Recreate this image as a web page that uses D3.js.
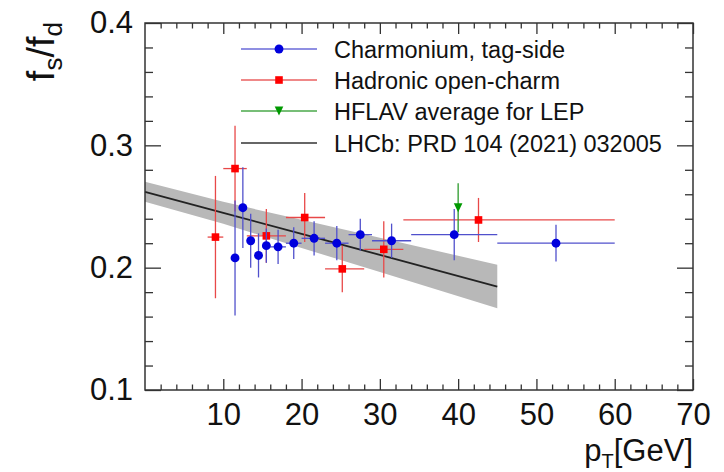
<!DOCTYPE html>
<html>
<head>
<meta charset="utf-8">
<script src="https://cdn.jsdelivr.net/npm/d3@7"></script>
<style>
  body { margin: 0; background: #fff; }
  svg text { font-family: "Liberation Sans", Arial, sans-serif; }
</style>
</head>
<body>
<div id="chart"></div>
<script>
// Charmonium, tag-side: pT, bin low, bin high, fs/fd, error
const charmX = [11.5, 12.5, 13.5, 14.5, 15.5, 17.0, 19.0, 21.6, 24.5, 27.5, 31.5, 39.5, 52.5];
const charmXlo = [11, 12, 13, 14, 15, 16, 18, 20, 23, 26, 29, 34, 45];
const charmXhi = [12, 13, 14, 15, 16, 18, 20, 23, 26, 29, 34, 45, 60];
const charmY = [0.208, 0.249, 0.222, 0.210, 0.218, 0.217, 0.220, 0.224, 0.220, 0.227, 0.222, 0.227, 0.220];
const charmErr = [0.047, 0.033, 0.022, 0.018, 0.014, 0.014, 0.013, 0.014, 0.014, 0.013, 0.014, 0.021, 0.015];

// Hadronic open-charm
const hadX = [9.0, 11.5, 15.5, 20.4, 25.2, 30.5, 42.6];
const hadXlo = [8, 10, 13, 18, 23, 28, 33];
const hadXhi = [10, 13, 18, 23, 28, 33, 60];
const hadY = [0.225, 0.281, 0.226, 0.241, 0.199, 0.215, 0.239];
const hadErr = [0.050, 0.035, 0.022, 0.020, 0.019, 0.023, 0.018];

// HFLAV average for LEP
const lepX = [40.0];
const lepY = [0.249];
const lepErr = [0.020];

// LHCb: PRD 104 (2021) 032005 band
const lhcbX = [0, 10, 20, 30, 45];
const lhcbY = [0.262, 0.2448, 0.2276, 0.2104, 0.1846];
const lhcbErr = [0.0082, 0.009, 0.0115, 0.014, 0.0178];

const legendLabels = ["Charmonium, tag-side", "Hadronic open-charm", "HFLAV average for LEP", "LHCb: PRD 104 (2021) 032005"];
const xTicks = [10, 20, 30, 40, 50, 60, 70];
const yTicks = [0.1, 0.2, 0.3, 0.4];

const svgWidth = 724, svgHeight = 472;
const margin = { top: 23, right: 31, bottom: 82, left: 145 },
  width = svgWidth - margin.left - margin.right,
  height = svgHeight - margin.top - margin.bottom;

const svg = d3.select("#chart").append("svg")
  .attr("width", svgWidth).attr("height", svgHeight);
const g = svg.append("g")
  .attr("transform", "translate(" + margin.left + "," + margin.top + ")");

const x = d3.scaleLinear().domain([0, 70]).range([0, width]);
const y = d3.scaleLinear().domain([0.1, 0.4]).range([height, 0]);

const minorX = d3.range(2, 70, 2).filter(d => d % 10 !== 0);
const minorY = d3.range(0.12, 0.4, 0.02).filter(d => Math.abs(Math.round(d * 10) - d * 10) > 0.01);

const axisColor = "#333";
function styleAxis(sel) {
  sel.select(".domain").remove();
  sel.selectAll("line").attr("stroke", axisColor).attr("stroke-width", 1.3);
}

// bottom + top axes
g.append("g").attr("transform", "translate(0," + height + ")")
  .call(d3.axisBottom(x).tickValues(xTicks).tickSize(-11).tickPadding(13).tickFormat(d3.format("d")))
  .call(styleAxis)
  .call(s => s.selectAll("text").attr("font-size", 31).attr("fill", "#111"));
g.append("g").attr("transform", "translate(0," + height + ")")
  .call(d3.axisBottom(x).tickValues(minorX).tickSize(-5.5).tickFormat(""))
  .call(styleAxis);
g.append("g")
  .call(d3.axisTop(x).tickValues(xTicks).tickSize(-11).tickFormat(""))
  .call(styleAxis);
g.append("g")
  .call(d3.axisTop(x).tickValues(minorX).tickSize(-5.5).tickFormat(""))
  .call(styleAxis);

// left + right axes
g.append("g")
  .call(d3.axisLeft(y).tickValues(yTicks).tickSize(-16).tickPadding(12).tickFormat(d3.format(".1f")))
  .call(styleAxis)
  .call(s => s.selectAll("text").attr("font-size", 31).attr("fill", "#111"));
g.append("g")
  .call(d3.axisLeft(y).tickValues(minorY).tickSize(-8).tickFormat(""))
  .call(styleAxis);
g.append("g").attr("transform", "translate(" + width + ",0)")
  .call(d3.axisRight(y).tickValues(yTicks).tickSize(-16).tickFormat(""))
  .call(styleAxis);
g.append("g").attr("transform", "translate(" + width + ",0)")
  .call(d3.axisRight(y).tickValues(minorY).tickSize(-8).tickFormat(""))
  .call(styleAxis);

// LHCb band + line
const band = lhcbX.map((d, i) => ({ x: d, y: lhcbY[i], e: lhcbErr[i] }));
g.append("path").datum(band)
  .attr("fill", "#b8b8b8")
  .attr("d", d3.area().x(d => x(d.x)).y0(d => y(d.y - d.e)).y1(d => y(d.y + d.e)));
g.append("path").datum(band)
  .attr("fill", "none").attr("stroke", "#222").attr("stroke-width", 1.8)
  .attr("d", d3.line().x(d => x(d.x)).y(d => y(d.y)));

function drawSeries(xs, xlo, xhi, ys, es, lineColor, markerColor, shape) {
  const data = xs.map((d, i) => ({ x: d, xlo: xlo ? xlo[i] : d, xhi: xhi ? xhi[i] : d, y: ys[i], e: es[i] }));
  const grp = g.append("g");
  grp.selectAll(".ex").data(data).enter().append("line")
    .attr("x1", d => x(d.xlo)).attr("x2", d => x(d.xhi))
    .attr("y1", d => y(d.y)).attr("y2", d => y(d.y))
    .attr("stroke", lineColor).attr("stroke-width", 1.3);
  grp.selectAll(".ey").data(data).enter().append("line")
    .attr("x1", d => x(d.x)).attr("x2", d => x(d.x))
    .attr("y1", d => y(d.y - d.e)).attr("y2", d => y(d.y + d.e))
    .attr("stroke", lineColor).attr("stroke-width", 1.3);
  grp.selectAll(".m").data(data).enter().append("path")
    .attr("transform", d => "translate(" + x(d.x) + "," + y(d.y) + ")")
    .attr("d", shape)
    .attr("fill", markerColor);
}

const circle = d3.symbol().type(d3.symbolCircle).size(62)();
const square = "M-3.8,-3.8H3.8V3.8H-3.8Z";
const triDown = "M-4.3,-4.5H4.3L0,4.5Z";

drawSeries(hadX, hadXlo, hadXhi, hadY, hadErr, "#e84848", "#ff0000", square);
drawSeries(charmX, charmXlo, charmXhi, charmY, charmErr, "#5050cc", "#0000dd", circle);
drawSeries(lepX, null, null, lepY, lepErr, "#2a9a2a", "#009900", triDown);

// frame
g.append("rect").attr("width", width).attr("height", height)
  .attr("fill", "none").attr("stroke", axisColor).attr("stroke-width", 1.5);

// legend
const legendRows = [49, 80, 111, 143];
const legendStyle = [
  { line: "#6a6ad8", color: "#0000dd", shape: circle },
  { line: "#ea6060", color: "#ff0000", shape: square },
  { line: "#4aa84a", color: "#009900", shape: triDown },
  { line: "#333", color: null, shape: null }
];
const leg = svg.append("g");
legendLabels.forEach((lab, i) => {
  const ly = legendRows[i];
  leg.append("line").attr("x1", 241).attr("x2", 317).attr("y1", ly).attr("y2", ly)
    .attr("stroke", legendStyle[i].line).attr("stroke-width", 1.6);
  if (legendStyle[i].shape) {
    leg.append("path").attr("transform", "translate(279," + ly + ")")
      .attr("d", legendStyle[i].shape).attr("fill", legendStyle[i].color);
  }
  leg.append("text").attr("x", 334).attr("y", ly + 8.5)
    .attr("font-size", 23.5).attr("fill", "#111").text(lab);
});

// axis titles
const xt = svg.append("text").attr("x", 693).attr("y", 461)
  .attr("text-anchor", "end").attr("font-size", 31).attr("fill", "#111");
xt.append("tspan").text("p");
xt.append("tspan").attr("font-size", 20).attr("dy", 7).text("T");
xt.append("tspan").attr("dy", -7).text("[GeV]");

const yt = svg.append("text").attr("transform", "translate(54,22) rotate(-90)")
  .attr("text-anchor", "end").attr("font-size", 38).attr("fill", "#111");
yt.append("tspan").text("f");
yt.append("tspan").attr("font-size", 26).attr("dy", 8).text("s");
yt.append("tspan").attr("dy", -8).text("/f");
yt.append("tspan").attr("font-size", 26).attr("dy", 8).text("d");
</script>
</body>
</html>
